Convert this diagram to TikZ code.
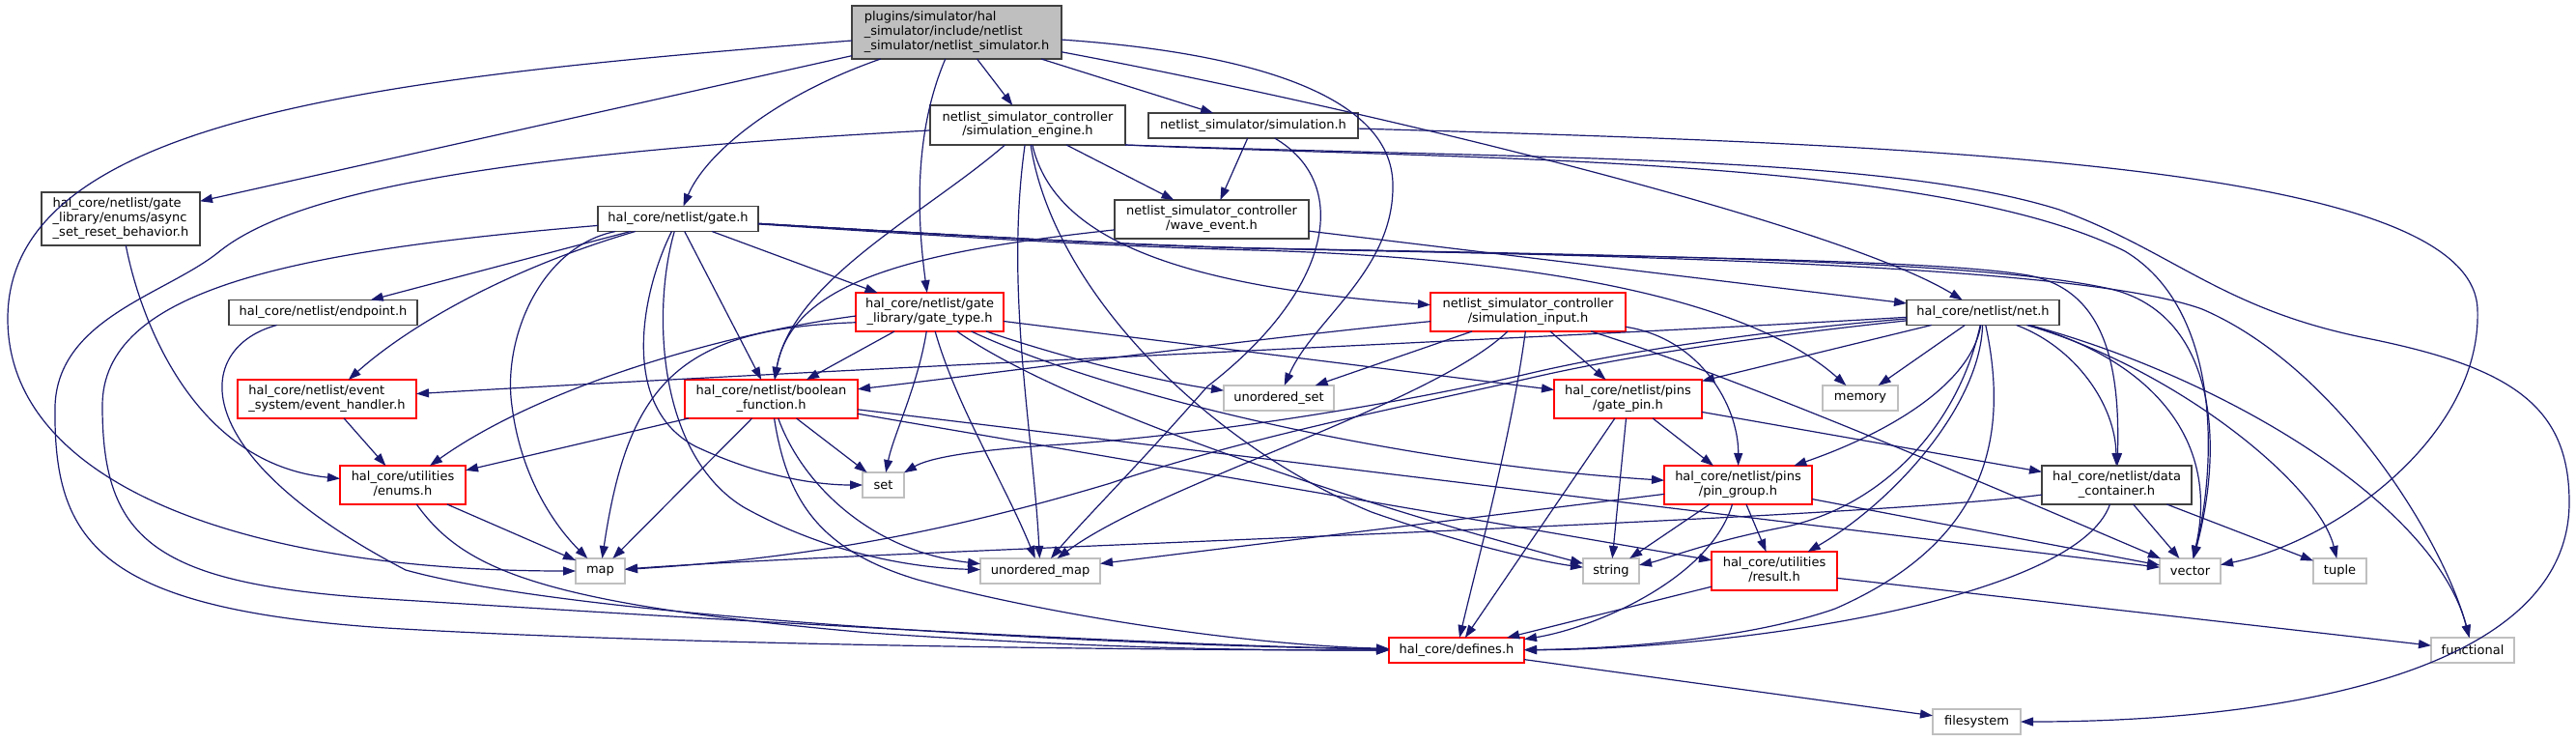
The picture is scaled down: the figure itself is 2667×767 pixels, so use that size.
\documentclass[tikz,border=0pt]{standalone}
\usepackage{fontspec}
\setmainfont{DejaVu Sans}
\usetikzlibrary{arrows.meta}
\definecolor{eblue}{HTML}{191970}
\definecolor{bred}{HTML}{FF0000}
\definecolor{bgrey}{HTML}{BFBFBF}
\definecolor{bdark}{HTML}{404040}
\definecolor{rootfill}{HTML}{BFBFBF}
\newcommand{\twol}[2]{\begin{tabular}{@{}l@{}}#1\\\multicolumn{1}{@{}c@{}}{#2}\end{tabular}}
\newcommand{\threel}[3]{\begin{tabular}{@{}l@{}}#1\\#2\\\multicolumn{1}{@{}c@{}}{#3}\end{tabular}}
\tikzset{
  nbase/.style={inner sep=0pt, outer sep=0pt, fill=white, text=black, font=\fontsize{6.5}{7.35}\selectfont},
  nblack/.style={nbase, draw=bdark, line width=0.9pt},
  nredbox/.style={nbase, draw=bred, line width=0.7pt},
  ngreybox/.style={nbase, draw=bgrey, line width=0.7pt},
  conn/.style={draw=eblue, line width=0.6pt, -{Triangle[length=6.5pt,width=4.5pt]}}
}
\begin{document}
\begin{tikzpicture}[x=0.5pt,y=-0.5pt]
\useasboundingbox (0,0) rectangle (2667,767);
\fill[white] (0,0) rectangle (2667,767);
% nodes
\node[nblack, fill=rootfill, minimum width=108.5pt, minimum height=27.5pt] (root) at (990.5,33.5) {\threel{plugins/simulator/hal}{\_simulator/include/netlist}{\_simulator/netlist\_simulator.h}};
\node[nblack, minimum width=82pt, minimum height=27.5pt] (async) at (125,226.5) {\threel{hal\_core/netlist/gate}{\_library/enums/async}{\_set\_reset\_behavior.h}};
\node[nblack, minimum width=83pt, minimum height=13pt] (gate) at (702,226.5) {hal\_core/netlist/gate.h};
\node[nblack, minimum width=101pt, minimum height=20.5pt] (eng) at (1064,129.5) {\twol{netlist\_simulator\_controller}{/simulation\_engine.h}};
\node[nblack, minimum width=108.5pt, minimum height=13pt] (sim) at (1297.5,130) {netlist\_simulator/simulation.h};
\node[nblack, minimum width=100.5pt, minimum height=20pt] (wave) at (1254.5,227) {\twol{netlist\_simulator\_controller}{/wave\_event.h}};
\node[nblack, minimum width=97.5pt, minimum height=13pt] (endp) at (334.5,323.5) {hal\_core/netlist/endpoint.h};
\node[nredbox, minimum width=76.5pt, minimum height=20pt] (gtype) at (962.5,323) {\twol{hal\_core/netlist/gate}{\_library/gate\_type.h}};
\node[nredbox, minimum width=101pt, minimum height=20pt] (sinp) at (1582,323) {\twol{netlist\_simulator\_controller}{/simulation\_input.h}};
\node[nblack, minimum width=79pt, minimum height=13pt] (net) at (2053,323.5) {hal\_core/netlist/net.h};
\node[nredbox, minimum width=92.5pt, minimum height=20pt] (evh) at (338.5,413) {\twol{hal\_core/netlist/event}{\_system/event\_handler.h}};
\node[nredbox, minimum width=89.5pt, minimum height=20pt] (bf) at (798.5,413) {\twol{hal\_core/netlist/boolean}{\_function.h}};
\node[ngreybox, minimum width=57pt, minimum height=13pt] (uset) at (1324,412) {unordered\_set};
\node[nredbox, minimum width=76.5pt, minimum height=20pt] (gpin) at (1685.5,413) {\twol{hal\_core/netlist/pins}{/gate\_pin.h}};
\node[ngreybox, minimum width=39pt, minimum height=13pt] (mem) at (1926,412) {memory};
\node[nredbox, minimum width=65pt, minimum height=20pt] (enums) at (417,502) {\twol{hal\_core/utilities}{/enums.h}};
\node[ngreybox, minimum width=21.5pt, minimum height=13pt] (set) at (914.5,502) {set};
\node[nredbox, minimum width=76.5pt, minimum height=20pt] (pgrp) at (1799.5,502) {\twol{hal\_core/netlist/pins}{/pin\_group.h}};
\node[nblack, minimum width=77.5pt, minimum height=20pt] (dcont) at (2191.5,502) {\twol{hal\_core/netlist/data}{\_container.h}};
\node[ngreybox, minimum width=25.5pt, minimum height=13pt] (map) at (621.5,591) {map};
\node[ngreybox, minimum width=62pt, minimum height=13pt] (umap) at (1077,591) {unordered\_map};
\node[ngreybox, minimum width=29pt, minimum height=13pt] (str) at (1668,591) {string};
\node[nredbox, minimum width=65pt, minimum height=20pt] (res) at (1837,591) {\twol{hal\_core/utilities}{/result.h}};
\node[ngreybox, minimum width=31.5pt, minimum height=13pt] (vec) at (2267.5,591) {vector};
\node[ngreybox, minimum width=27.5pt, minimum height=13pt] (tup) at (2422.5,591) {tuple};
\node[nredbox, minimum width=70pt, minimum height=13pt] (def) at (1508,673) {hal\_core/defines.h};
\node[ngreybox, minimum width=43pt, minimum height=13pt] (func) at (2560,673) {functional};
\node[ngreybox, minimum width=45.5pt, minimum height=13pt] (fs) at (2046.5,747) {filesystem};
% root
\draw[conn] (root) .. controls (400,80) and (8,120) .. (8,330) .. controls (8,500) and (250,591) .. (map);
\draw[conn] (root) -- (async);
\draw[conn] (root) .. controls (800,100) and (730,160) .. (gate);
\draw[conn] (root) .. controls (945,140) and (950,230) .. (gtype);
\draw[conn] (root) -- (eng);
\draw[conn] (root) -- (sim);
\draw[conn] (root) .. controls (1300,55) and (1440,100) .. (1442,190) .. controls (1444,280) and (1360,330) .. (uset);
\draw[conn] (root) .. controls (1400,110) and (1900,230) .. (net);
% async
\draw[conn] (async) .. controls (145,330) and (200,480) .. (enums);
% gate
\draw[conn] (gate) -- (endp);
\draw[conn] (gate) .. controls (520,280) and (420,340) .. (evh);
\draw[conn] (gate) .. controls (300,260) and (106,300) .. (106,420) .. controls (106,560) and (160,605) .. (400,620) .. controls (800,645) and (1200,668) .. (def);
\draw[conn] (gate) .. controls (560,255) and (520,350) .. (530,420) .. controls (540,500) and (580,550) .. (map);
\draw[conn] (gate) .. controls (665,300) and (640,420) .. (720,462) .. controls (790,495) and (850,502) .. (set);
\draw[conn] (gate) .. controls (675,320) and (680,470) .. (770,525) .. controls (860,575) and (950,588) .. (umap);
\draw[conn] (gate) -- (bf);
\draw[conn] (gate) -- (gtype);
\draw[conn] (gate) .. controls (1000,246) and (1150,255) .. (1300,259) .. controls (1550,266) and (1800,300) .. (mem);
\draw[conn] (gate) .. controls (1000,244) and (1150,253) .. (1300,257) .. controls (1700,266) and (2000,268) .. (2100,285) .. controls (2180,300) and (2195,380) .. (dcont);
\draw[conn] (gate) .. controls (1000,244) and (1150,253) .. (1300,257) .. controls (1700,264) and (2050,270) .. (2180,298) .. controls (2290,320) and (2305,450) .. (vec);
\draw[conn] (gate) .. controls (1000,244) and (1150,253) .. (1300,257) .. controls (1800,266) and (2170,280) .. (2280,320) .. controls (2420,380) and (2530,560) .. (func);
% simulation engine
\draw[conn] (eng) .. controls (500,160) and (300,200) .. (225,262) .. controls (170,305) and (60,330) .. (57,420) .. controls (55,560) and (100,630) .. (400,650) .. controls (700,668) and (1200,673) .. (def);
\draw[conn] (eng) .. controls (960,220) and (820,290) .. (bf);
\draw[conn] (eng) .. controls (1040,300) and (1070,450) .. (umap);
\draw[conn] (eng) .. controls (1090,300) and (1250,460) .. (1420,530) .. controls (1520,565) and (1600,582) .. (str);
\draw[conn] (eng) .. controls (1090,240) and (1200,295) .. (sinp);
\draw[conn] (eng) -- (wave);
\draw[conn] (eng.south east) .. controls (1500,165) and (2000,160) .. (2200,260) .. controls (2300,320) and (2295,480) .. (vec);
\draw[conn] (eng.south east) .. controls (1600,165) and (1950,160) .. (2132,217) .. controls (2250,260) and (2300,320) .. (2450,350) .. controls (2600,380) and (2660,420) .. (2660,520) .. controls (2660,700) and (2350,747) .. (fs);
% simulation
\draw[conn] (sim) -- (wave);
\draw[conn] (sim) .. controls (1400,190) and (1380,300) .. (1250,400) .. controls (1180,480) and (1120,540) .. (umap);
\draw[conn] (sim) .. controls (2000,150) and (2560,170) .. (2565,320) .. controls (2570,450) and (2420,560) .. (vec);
% wave event
\draw[conn] (wave) .. controls (950,260) and (820,290) .. (bf);
\draw[conn] (wave) -- (net);
% endpoint
\draw[conn] (endp) .. controls (200,360) and (190,470) .. (420,590) .. controls (600,640) and (1150,668) .. (def);
% gate type
\draw[conn] (gtype.183) .. controls (750,345) and (560,400) .. (enums);
\draw[conn] (gtype.188) .. controls (700,340) and (650,400) .. (map);
\draw[conn] (gtype) -- (bf);
\draw[conn] (gtype) .. controls (950,400) and (925,450) .. (set);
\draw[conn] (gtype) .. controls (990,420) and (1040,500) .. (umap);
\draw[conn] (gtype) .. controls (1100,420) and (1400,520) .. (str);
\draw[conn] (gtype) .. controls (1100,370) and (1200,395) .. (uset);
\draw[conn] (gtype) .. controls (1150,410) and (1450,480) .. (pgrp);
\draw[conn] (gtype) -- (gpin);
% boolean function
\draw[conn] (bf) -- (enums);
\draw[conn] (bf) -- (map);
\draw[conn] (bf) -- (set);
\draw[conn] (bf) .. controls (830,500) and (900,570) .. (umap);
\draw[conn] (bf) .. controls (815,520) and (850,570) .. (950,600) .. controls (1100,640) and (1300,668) .. (def);
\draw[conn] (bf) -- (vec);
\draw[conn] (bf) -- (res);
% simulation input
\draw[conn] (sinp) .. controls (1300,350) and (1000,390) .. (bf);
\draw[conn] (sinp) -- (uset);
\draw[conn] (sinp) .. controls (1480,420) and (1200,500) .. (umap);
\draw[conn] (sinp) .. controls (1565,450) and (1530,580) .. (def);
\draw[conn] (sinp) -- (gpin);
\draw[conn] (sinp) .. controls (1760,350) and (1800,420) .. (pgrp);
\draw[conn] (sinp) .. controls (1800,390) and (2100,520) .. (vec);
% net
\draw[conn] (net) .. controls (1700,345) and (900,380) .. (evh);
\draw[conn] (net) .. controls (1850,340) and (1700,360) .. (1590,385) .. controls (1450,418) and (1250,450) .. (1100,460) .. controls (1000,466) and (960,475) .. (set);
\draw[conn] (net) .. controls (1850,345) and (1700,365) .. (1590,390) .. controls (1450,422) and (1300,450) .. (1150,500) .. controls (950,560) and (800,580) .. (map);
\draw[conn] (net) -- (gpin);
\draw[conn] (net) -- (mem);
\draw[conn] (net) .. controls (2040,400) and (1950,450) .. (pgrp);
\draw[conn] (net) .. controls (2050,420) and (1960,520) .. (res);
\draw[conn] (net) .. controls (2030,430) and (1960,520) .. (1850,545) .. controls (1770,560) and (1720,580) .. (str);
\draw[conn] (net) .. controls (2080,450) and (2060,560) .. (1900,630) .. controls (1800,665) and (1650,672) .. (def);
\draw[conn] (net) .. controls (2150,360) and (2190,420) .. (dcont);
\draw[conn] (net) .. controls (2220,370) and (2300,450) .. (vec);
\draw[conn] (net) .. controls (2250,380) and (2400,500) .. (tup);
\draw[conn] (net) .. controls (2300,390) and (2520,520) .. (func);
% data container
\draw[conn] (dcont) .. controls (1900,540) and (900,570) .. (map);
\draw[conn] (dcont) .. controls (2150,620) and (1800,672) .. (def);
\draw[conn] (dcont) -- (vec);
\draw[conn] (dcont) -- (tup);
% pin group
\draw[conn] (pgrp) -- (umap);
\draw[conn] (pgrp) -- (str);
\draw[conn] (pgrp) -- (res);
\draw[conn] (pgrp) -- (vec);
\draw[conn] (pgrp) .. controls (1770,600) and (1650,650) .. (def);
% gate pin
\draw[conn] (gpin) -- (pgrp);
\draw[conn] (gpin) -- (str);
\draw[conn] (gpin) -- (def);
\draw[conn] (gpin) -- (dcont);
% result
\draw[conn] (res) -- (def);
\draw[conn] (res) -- (func);
% enums
\draw[conn] (enums) -- (map);
\draw[conn] (enums) .. controls (480,590) and (560,625) .. (900,655) .. controls (1150,672) and (1300,673) .. (def);
% event handler
\draw[conn] (evh) -- (enums);
% defines
\draw[conn] (def) -- (fs);
\end{tikzpicture}
\end{document}
